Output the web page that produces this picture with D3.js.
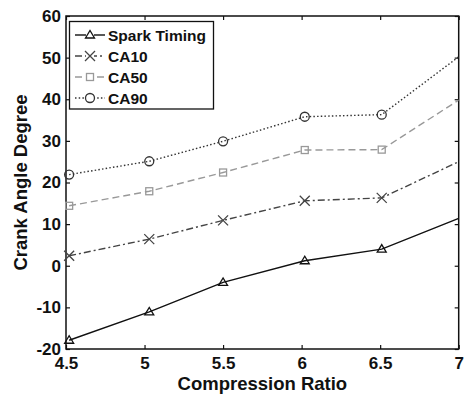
<!DOCTYPE html>
<meta charset="utf-8">
<style>
body { margin: 0; background: #fff; }
text { font-family: "Liberation Sans", Arial, sans-serif; font-weight: bold; fill: #111; }
.tick text { font-size: 17px; }
.lab { font-size: 18.5px; }
.leg text { font-size: 15.5px; }
</style>
<svg width="465" height="396"></svg>
<script src="https://d3js.org/d3.v7.min.js"></script>
<script>
// compression ratio (markers sit a bit right of the ticks)
var ratio = [4.52, 5.03, 5.5, 6.02, 6.51, 7.0];
var sparkTiming = [-17.9, -11.1, -4.0, 1.2, 4.0, 11.4];
var ca10 = [2.4, 6.4, 10.9, 15.6, 16.3, 25.0];
var ca50 = [14.4, 17.9, 22.4, 27.8, 27.9, 39.8];
var ca90 = [21.9, 25.1, 29.9, 35.8, 36.3, 50.2];
var xTicks = [4.5, 5, 5.5, 6, 6.5, 7];
var yTicks = [-20, -10, 0, 10, 20, 30, 40, 50, 60];

var svg = d3.select("svg"),
    pLeft = 66, pTop = 16, pRight = 458.7, pBottom = 349;

var x = d3.scaleLinear().domain([4.5, 7]).range([pLeft, pRight]);
var y = d3.scaleLinear().domain([-20, 60]).range([pBottom, pTop]);

var series = [
  {name: "Spark Timing", vals: sparkTiming, color: "#111", dash: null, mark: "tri"},
  {name: "CA10", vals: ca10, color: "#444", dash: "7,3,2,3", mark: "x"},
  {name: "CA50", vals: ca50, color: "#999", dash: "7,4", mark: "sq"},
  {name: "CA90", vals: ca90, color: "#333", dash: "1.5,2.2", mark: "circ"}
];

svg.append("defs").append("clipPath").attr("id", "clip")
  .append("rect").attr("x", pLeft).attr("y", pTop)
  .attr("width", pRight - pLeft).attr("height", pBottom - pTop);

// plain hyphen minus like the original, not d3's U+2212
var fmt = function(d) { return String(d); };

// axes with inward ticks, mirrored on top/right
svg.append("g").attr("transform", "translate(0," + pBottom + ")")
  .call(d3.axisBottom(x).tickValues(xTicks).tickSize(-4).tickPadding(8).tickFormat(fmt));
svg.append("g").attr("transform", "translate(0," + pTop + ")")
  .call(d3.axisTop(x).tickValues(xTicks).tickSize(-4).tickFormat(""));
svg.append("g").attr("transform", "translate(" + pLeft + ",0)")
  .call(d3.axisLeft(y).tickValues(yTicks).tickSize(-4).tickPadding(5).tickFormat(fmt));
svg.append("g").attr("transform", "translate(" + pRight + ",0)")
  .call(d3.axisRight(y).tickValues(yTicks).tickSize(-4).tickFormat(""));
svg.selectAll(".domain").remove();
svg.selectAll(".tick line").attr("stroke", "#111").attr("stroke-width", 1.2);
svg.selectAll(".tick text").attr("fill", "#111");

svg.append("rect").attr("x", pLeft).attr("y", pTop)
  .attr("width", pRight - pLeft).attr("height", pBottom - pTop)
  .attr("fill", "none").attr("stroke", "#111").attr("stroke-width", 1.5);

var line = d3.line().x(function(d) { return x(d[0]); }).y(function(d) { return y(d[1]); });

function drawMark(g, type, color) {
  var m;
  if (type == "tri") {
    m = g.append("path").attr("d", "M-4.5,3L0,-4.5L4.5,3Z");
  } else if (type == "x") {
    m = g.append("path").attr("d", "M-5,-5L5,5M-5,5L5,-5");
  } else if (type == "sq") {
    m = g.append("rect").attr("x", -3.5).attr("y", -3.5).attr("width", 7).attr("height", 7);
  } else {
    m = g.append("circle").attr("r", 4.5);
  }
  m.attr("fill", "none").attr("stroke", color).attr("stroke-width", 1.3);
}

series.forEach(function(s) {
  var pts = ratio.map(function(r, i) { return [r, s.vals[i]]; });
  svg.append("path").datum(pts)
    .attr("clip-path", "url(#clip)")
    .attr("fill", "none").attr("stroke", s.color).attr("stroke-width", 1.4)
    .attr("stroke-dasharray", s.dash).attr("d", line);
  pts.filter(function(p) { return p[0] < 7; }).forEach(function(p) {
    var g = svg.append("g").attr("transform", "translate(" + x(p[0]) + "," + y(p[1]) + ")");
    drawMark(g, s.mark, s.color);
  });
});

// legend
var leg = svg.append("g").attr("class", "leg");
leg.append("rect").attr("x", 69.5).attr("y", 21.5).attr("width", 144).attr("height", 87.5)
  .attr("fill", "#fff").attr("stroke", "#111").attr("stroke-width", 1.3);
series.forEach(function(s, i) {
  var ly = 35 + i * 21;
  leg.append("line").attr("x1", 75).attr("x2", 105).attr("y1", ly).attr("y2", ly)
    .attr("stroke", s.color).attr("stroke-width", 1.4).attr("stroke-dasharray", s.dash);
  var g = leg.append("g").attr("transform", "translate(90," + ly + ")");
  g.append("rect").attr("x", -4).attr("y", -4).attr("width", 8).attr("height", 8).attr("fill", "#fff");
  drawMark(g, s.mark, s.color);
  leg.append("text").attr("x", 108).attr("y", ly + 5.5).text(s.name);
});

svg.append("text").attr("class", "lab").attr("text-anchor", "middle")
  .attr("x", (pLeft + pRight) / 2).attr("y", 390).text("Compression Ratio");
svg.append("text").attr("class", "lab").attr("text-anchor", "middle")
  .attr("transform", "translate(27," + (pTop + pBottom) / 2 + ") rotate(-90)")
  .text("Crank Angle Degree");
</script>
